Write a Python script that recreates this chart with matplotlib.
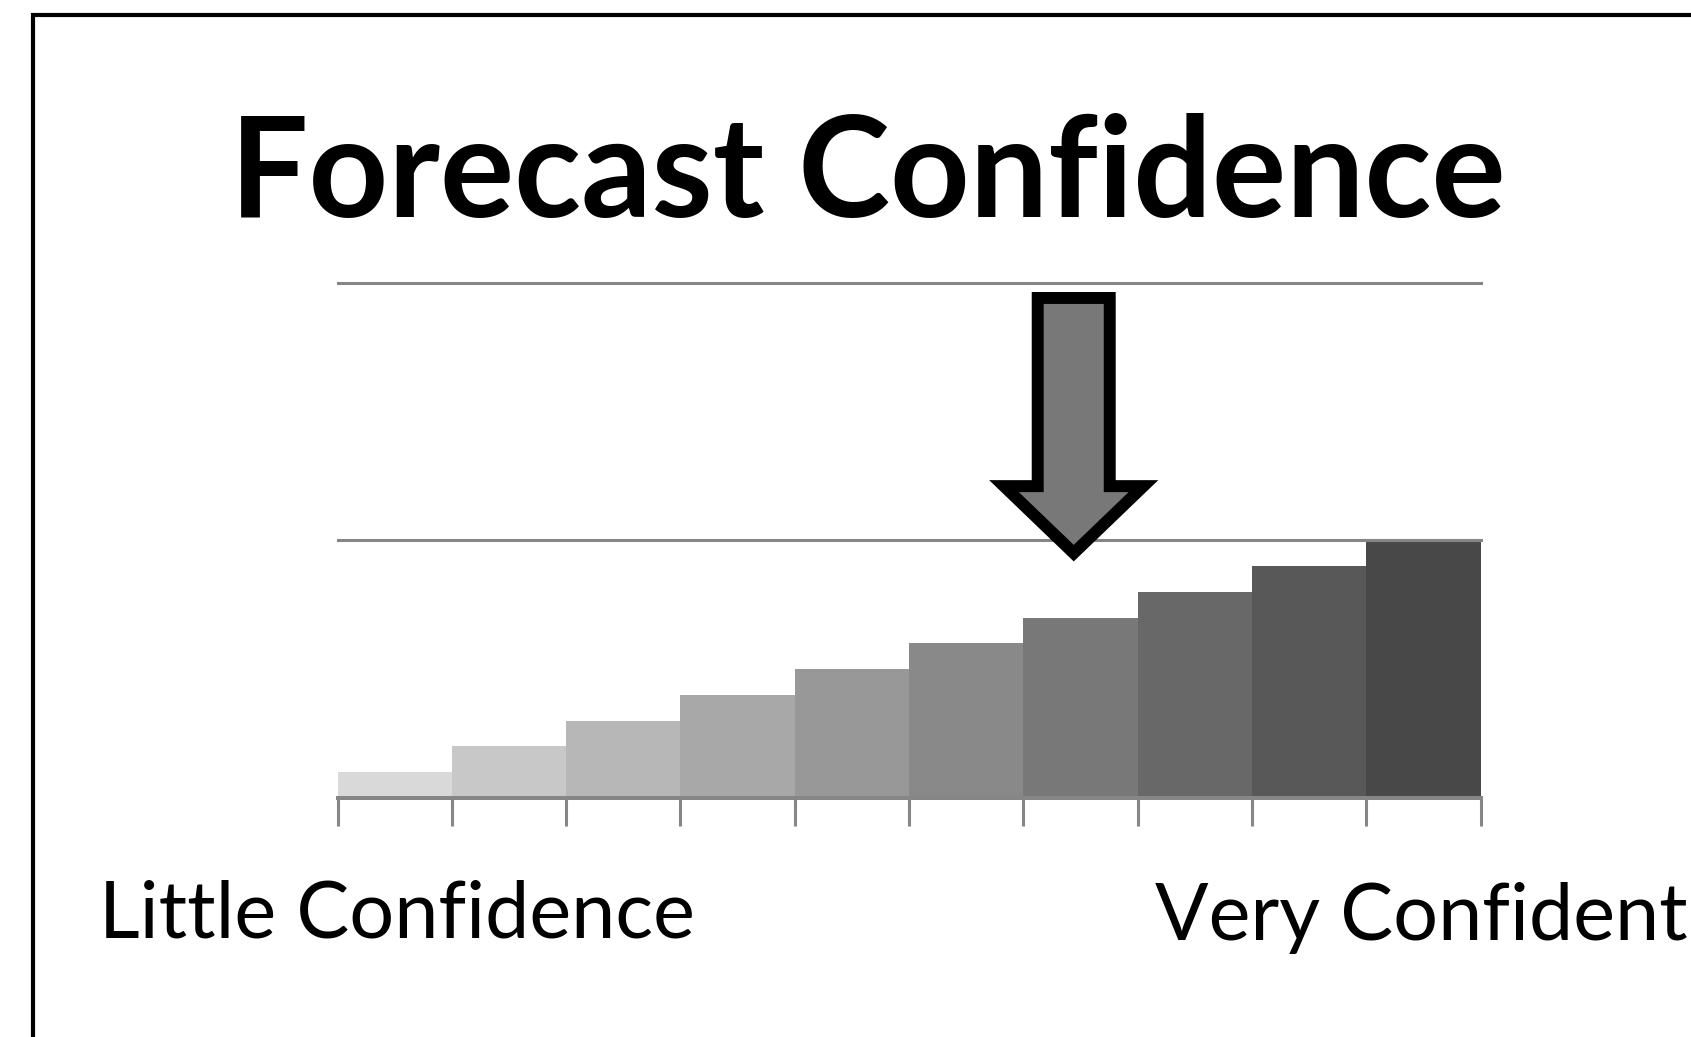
import matplotlib.pyplot as plt
from matplotlib.patches import Polygon, Rectangle

# confidence scale: ten steps, each one a bit taller and darker
levels = list(range(1, 11))
heights = [0.1, 0.2, 0.3, 0.4, 0.5, 0.6, 0.7, 0.8, 0.9, 1.0]
colors = ['#d9d9d9', '#c8c8c8', '#b7b7b7', '#a8a8a8', '#989898',
          '#898989', '#787878', '#686868', '#585858', '#484848']
forecast_level = 7

title = 'Forecast Confidence'
low_label = 'Little Confidence'
high_label = 'Very Confident'

W, H = 1691, 1037
fig = plt.figure(figsize=(W / 100, H / 100), dpi=100)
fig.patch.set_facecolor('white')

# outer frame (only the top and left edges fall inside the picture)
fig.add_artist(Rectangle((33.3 / W, -0.2), 1.5, 1.2 - 15 / H, transform=fig.transFigure,
                         fill=False, edgecolor='black', linewidth=3.0))

ax = fig.add_axes([337.5 / W, 239 / H, 1143.2 / W, 515.5 / H])
ax.bar([i - 1 for i in levels], heights, width=1.0, color=colors, zorder=2)
ax.set_xlim(-0.5, len(levels) - 0.5)
ax.set_ylim(0, 2)

grid_color = '#868686'
for y in [1, 2]:
    ax.axhline(y, color=grid_color, linewidth=2.2, zorder=3, clip_on=False)

for side in ['left', 'right', 'top']:
    ax.spines[side].set_visible(False)
ax.spines['bottom'].set_color(grid_color)
ax.spines['bottom'].set_linewidth(2.9)
ax.spines['bottom'].set_zorder(4)

ax.set_xticks([i - 0.5 for i in range(len(levels) + 1)])
ax.set_xticklabels([])
ax.tick_params(axis='x', direction='out', length=20, width=2.2, color=grid_color)
ax.set_yticks([])

# arrow pointing down at the chosen level
cx = forecast_level - 1 - 0.06
sw, hw = 0.315, 0.61
top, base, tip = 1.94, 1.21, 0.95
pts = [(cx - sw, top), (cx + sw, top), (cx + sw, base), (cx + hw, base),
       (cx, tip), (cx - hw, base), (cx - sw, base)]
ax.add_patch(Polygon(pts, closed=True, facecolor='#787878', edgecolor='black',
                     linewidth=8.6, joinstyle='miter', zorder=6, clip_on=False))

fig.text(868 / W, (H - 217) / H, title, ha='center', va='baseline',
         fontsize=100, fontweight='bold', family='Lato')
fig.text(99 / W, (H - 938) / H, low_label, ha='left', va='baseline',
         fontsize=57, family='Lato')
fig.text(1155 / W, (H - 940) / H, high_label, ha='left', va='baseline',
         fontsize=57, family='Lato')

fig.savefig('out.png', dpi=100)
